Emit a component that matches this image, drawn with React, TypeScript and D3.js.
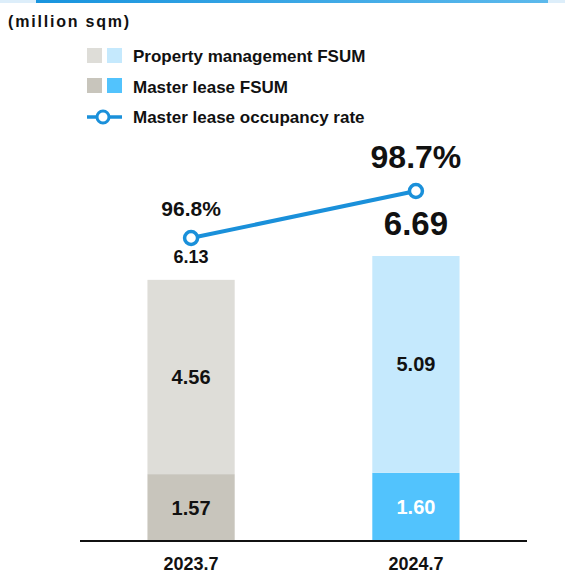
import React from 'react'
import * as d3 from 'd3'

const periods = ['2023.7', '2024.7']
const masterLease = [1.57, 1.60]
const propertyMgmt = [4.56, 5.09]
const totals = ['6.13', '6.69']
const occupancy = [96.8, 98.7]

const greys = ['#c8c5bc', '#deddd8']
const blues = ['#52c3fd', '#c5e9fd']
const lineColor = '#1a90da'
const font = '"Liberation Sans", Arial, sans-serif'

const App = () => {
	const W = 565, H = 573
	const baseY = 541

	const x = d3.scaleBand().domain(periods).range([80, 527]).paddingInner(0.612).paddingOuter(0.3)
	const y = d3.scaleLinear().domain([0, 6.69]).range([baseY, 256])
	const yRate = d3.scaleLinear().domain([96.8, 98.7]).range([238, 191])

	const cx = (p: string) => (x(p) as number) + x.bandwidth() / 2
	const line = d3.line<number>().x((d, i) => cx(periods[i])).y(d => yRate(d))

	return (
		<svg width={W} height={H} style={{position: 'absolute', left: 0, top: 0, fontFamily: font}}>
			<defs>
				<linearGradient id="topbar" x1="0" x2="1">
					<stop offset="0" stopColor="#1894de"/>
					<stop offset="1" stopColor="#5cb9ec"/>
				</linearGradient>
			</defs>
			<rect x={0} y={0} width={W} height={3} fill="#ddeefa"/>
			<rect x={36} y={0} width={512} height={3} fill="url(#topbar)"/>

			<text x={8} y={27} fontSize={16} fontWeight="bold" letterSpacing={1.8} fill="#111">(million sqm)</text>

			{/* legend */}
			<g fontSize={17} fontWeight="bold" fill="#111">
				<rect x={87} y={48} width={15} height={15} fill={greys[1]}/>
				<rect x={107} y={48} width={15} height={15} fill={blues[1]}/>
				<text x={133} y={62}>Property management FSUM</text>
				<rect x={87} y={78} width={15} height={15} fill={greys[0]}/>
				<rect x={107} y={78} width={15} height={15} fill={blues[0]}/>
				<text x={133} y={93}>Master lease FSUM</text>
				<line x1={87} x2={122} y1={117} y2={117} stroke={lineColor} strokeWidth={3.5}/>
				<circle cx={103} cy={117} r={6} fill="#fff" stroke={lineColor} strokeWidth={3}/>
				<text x={133} y={123}>Master lease occupancy rate</text>
			</g>

			{periods.map((p, i) => {
				const pal = i === 0 ? greys : blues
				const bx = x(p) as number
				const top = masterLease[i] + propertyMgmt[i]
				return (
					<g key={p}>
						<rect x={bx} y={y(masterLease[i])} width={x.bandwidth()} height={baseY - y(masterLease[i])} fill={pal[0]}/>
						<rect x={bx} y={y(top)} width={x.bandwidth()} height={y(masterLease[i]) - y(top)} fill={pal[1]}/>
						<text x={cx(p)} y={(y(masterLease[i]) + baseY) / 2 + 7} textAnchor="middle" fontSize={20} fontWeight="bold" fill={i === 0 ? '#111' : '#fff'}>{masterLease[i].toFixed(2)}</text>
						<text x={cx(p)} y={(y(masterLease[i]) + y(top)) / 2 + 7} textAnchor="middle" fontSize={20} fontWeight="bold" fill="#111">{propertyMgmt[i].toFixed(2)}</text>
						<text x={cx(p)} y={570} textAnchor="middle" fontSize={18} fontWeight="bold" fill="#111">{p}</text>
					</g>
				)
			})}

			<line x1={80} x2={527} y1={baseY} y2={baseY} stroke="#111" strokeWidth={2}/>

			<path d={line(occupancy) as string} fill="none" stroke={lineColor} strokeWidth={4}/>
			{occupancy.map((r, i) => (
				<circle key={i} cx={cx(periods[i])} cy={yRate(r)} r={6.5} fill="#fff" stroke={lineColor} strokeWidth={3.5}/>
			))}

			{/* first period labels: small */}
			<text x={cx(periods[0])} y={yRate(occupancy[0]) - 22} textAnchor="middle" fontSize={21} fontWeight="bold" fill="#111">{occupancy[0]}%</text>
			<text x={cx(periods[0])} y={yRate(occupancy[0]) + 25} textAnchor="middle" fontSize={18} fontWeight="bold" fill="#111">{totals[0]}</text>
			{/* second period labels: large */}
			<text x={cx(periods[1])} y={yRate(occupancy[1]) - 23} textAnchor="middle" fontSize={32} fontWeight="bold" fill="#111">{occupancy[1]}%</text>
			<text x={cx(periods[1])} y={yRate(occupancy[1]) + 44} textAnchor="middle" fontSize={33} fontWeight="bold" fill="#111">{totals[1]}</text>
		</svg>
	)
}

export default App
